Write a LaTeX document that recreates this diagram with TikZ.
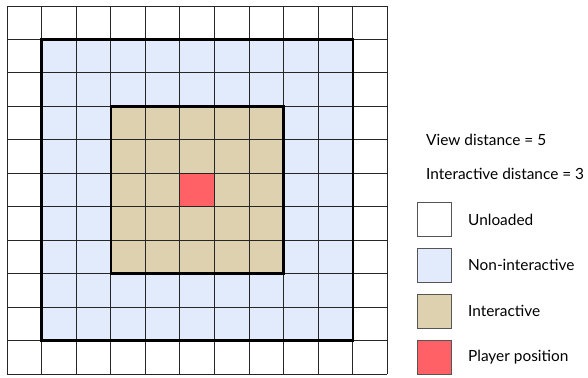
\documentclass[tikz,border=0pt]{standalone}
\usepackage{fontspec}
\setmainfont{Lato}
\usetikzlibrary{positioning}

\definecolor{unloadedfill}{HTML}{FFFFFF}
\definecolor{noninterfill}{HTML}{E1EBFC}
\definecolor{interfill}{HTML}{DDD1AF}
\definecolor{playerfill}{HTML}{FF6166}
\definecolor{keyborder}{HTML}{555555}

\tikzset{
  gridline/.style={line width=0.9pt,black!85},
  zoneline/.style={line width=2.4pt,black},
  keybox/.style={draw=keyborder,line width=0.9pt,minimum width=34pt,minimum height=34pt,inner sep=0pt},
  keytext/.style={inner sep=0pt,font=\fontsize{15.4}{18}\selectfont},
}

\begin{document}
\begin{tikzpicture}[x=1pt,y=-1pt]
\useasboundingbox (0,0) rectangle (588,377);

% --- chunk grid, 11 x 11 cells ---
\begin{scope}[shift={(7,6)},x=34.57pt,y=-33.45pt]
  \fill[unloadedfill] (0,0) rectangle (11,11);
  \fill[noninterfill] (1,1) rectangle (10,10);
  \fill[interfill] (3,3) rectangle (8,8);
  \fill[playerfill] (5,5) rectangle (6,6);
  \foreach \i in {0,...,11} {
    \draw[gridline] (\i,0) -- (\i,11);
    \draw[gridline] (0,\i) -- (11,\i);
  }
  % view / interactive borders
  \draw[zoneline] (1,1) rectangle (10,10);
  \draw[zoneline] (3,3) rectangle (8,8);
\end{scope}

% --- distances ---
\node[keytext,anchor=west] (viewdist) at (426,140) {View distance = 5};
\node[keytext,anchor=west] (interdist) at (426,174) {Interactive distance = 3};

% --- legend ---
\node[keybox,fill=unloadedfill] (keyunloaded) at (434,219.5) {};
\node[keybox,fill=noninterfill,below=11pt of keyunloaded] (keynoninter) {};
\node[keybox,fill=interfill,below=11pt of keynoninter] (keyinter) {};
\node[keybox,fill=playerfill,below=11pt of keyinter] (keyplayer) {};

\node[keytext,right=16.5pt of keyunloaded] (lblunloaded) {Unloaded};
\node[keytext,right=16.5pt of keynoninter] (lblnoninter) {Non-interactive};
\node[keytext,right=16.5pt of keyinter] (lblinter) {Interactive};
\node[keytext,right=16.5pt of keyplayer] (lblplayer) {Player position};

\end{tikzpicture}
\end{document}
